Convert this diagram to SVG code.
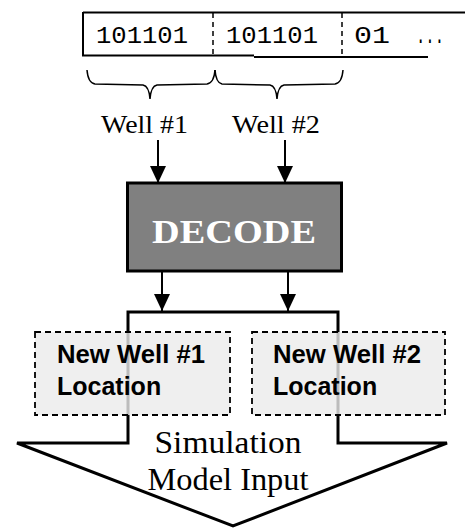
<svg xmlns="http://www.w3.org/2000/svg" width="465" height="529" viewBox="0 0 465 529">
<style>
.ln{stroke:#000;fill:none;stroke-width:2}
.mono{font-family:"Liberation Mono","DejaVu Sans Mono",monospace;font-size:23px;fill:#000}
.serif{font-family:"Liberation Serif","Times New Roman",serif;fill:#000}
.sans{font-family:"Liberation Sans",Arial,sans-serif;font-weight:bold;font-size:25px;fill:#000}
.box{fill:#ebebeb;fill-opacity:0.8;stroke:#000;stroke-width:1.8;stroke-dasharray:6,4}
</style>
<defs>
<marker id="ah" markerUnits="userSpaceOnUse" markerWidth="18" markerHeight="18" viewBox="0 0 18 18" refX="17" refY="9" orient="auto">
<path d="M0,1 L17,9 L0,17 Z" fill="#000"/>
</marker>
</defs>
<rect width="465" height="529" fill="#fff"/>
<g id="bitstring">
<path class="ln" d="M83,12.5 L465,12.5 M83,12 L83,55.5 L254,55.5 M254,57 L428,57"/>
<line x1="213" y1="13" x2="213" y2="54" stroke="#000" stroke-width="1.5" stroke-dasharray="5,4"/>
<line x1="342" y1="13" x2="342" y2="56" stroke="#000" stroke-width="1.5" stroke-dasharray="5,4"/>
<text class="mono" x="96" y="43" textLength="92" lengthAdjust="spacingAndGlyphs">101101</text>
<text class="mono" x="226" y="43" textLength="92" lengthAdjust="spacingAndGlyphs">101101</text>
<text class="mono" x="354" y="43" textLength="36" lengthAdjust="spacingAndGlyphs">01</text>
<text class="mono" x="416" y="43" textLength="28" lengthAdjust="spacingAndGlyphs">...</text>
</g>
<g id="braces">
<path stroke="#000" stroke-width="1.5" fill="none" d="M87,70 Q88,83 95,84 L143,85 Q149,86 150,99 Q151,86 157,85 L207,84 Q214,83 215,70"/>
<path stroke="#000" stroke-width="1.5" fill="none" d="M215,70 Q216,83 222,84 L270,85 Q276,86 277,99 Q278,86 284,85 L335,84 Q342,83 343,70"/>
</g>
<g id="well1-label"><text class="serif" x="101" y="133" font-size="26" textLength="87" lengthAdjust="spacingAndGlyphs">Well #1</text></g>
<g id="well2-label"><text class="serif" x="232" y="133" font-size="26" textLength="88" lengthAdjust="spacingAndGlyphs">Well #2</text></g>
<g id="simulation">
<path d="M128,312 L338,312 L338,443 L447,443 L233,526 L17,443 L128,443 Z" fill="#fff" stroke="#000" stroke-width="3" stroke-linejoin="miter"/>
<text class="serif" x="228" y="453" font-size="31" text-anchor="middle" textLength="147" lengthAdjust="spacingAndGlyphs">Simulation</text>
<text class="serif" x="228" y="490" font-size="31" text-anchor="middle" textLength="161" lengthAdjust="spacingAndGlyphs">Model Input</text>
</g>
<g id="decode">
<rect x="127.5" y="183" width="214" height="88" fill="#808080" stroke="#000" stroke-width="3"/>
<text class="serif" x="234" y="243" font-size="34" font-weight="bold" fill="#fff" style="fill:#fff" text-anchor="middle" textLength="164" lengthAdjust="spacingAndGlyphs">DECODE</text>
</g>
<g id="connectors">
<line class="ln" x1="158" y1="140" x2="158" y2="183" marker-end="url(#ah)"/>
<line class="ln" x1="285" y1="140" x2="285" y2="183" marker-end="url(#ah)"/>
<line class="ln" x1="162" y1="272" x2="162" y2="311" marker-end="url(#ah)"/>
<line class="ln" x1="288" y1="272" x2="288" y2="311" marker-end="url(#ah)"/>
</g>
<g id="well1-location">
<rect class="box" x="35" y="332" width="195" height="83"/>
<text class="sans" x="57" y="363" textLength="148" lengthAdjust="spacingAndGlyphs">New Well #1</text>
<text class="sans" x="57" y="395">Location</text>
</g>
<g id="well2-location">
<rect class="box" x="252" y="332" width="193" height="83"/>
<text class="sans" x="273" y="363" textLength="148" lengthAdjust="spacingAndGlyphs">New Well #2</text>
<text class="sans" x="273" y="395">Location</text>
</g>
</svg>
